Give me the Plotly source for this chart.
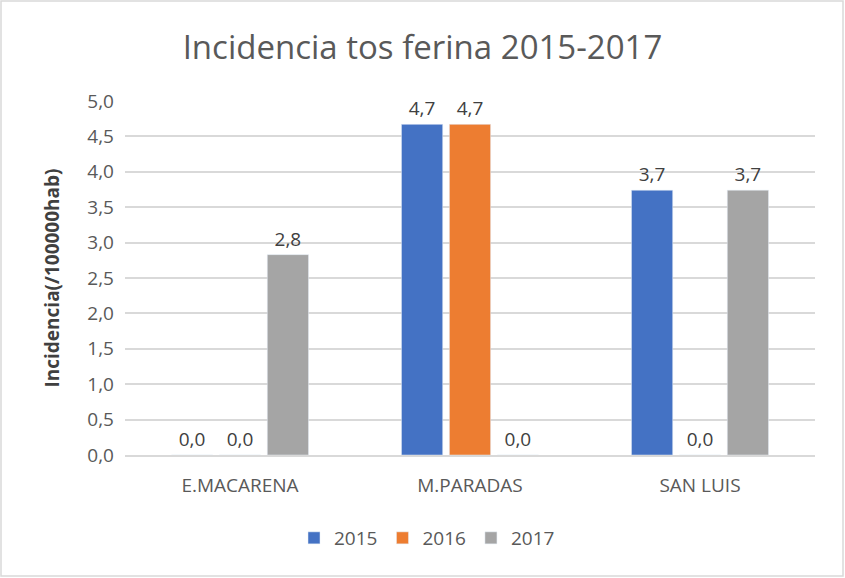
import plotly.graph_objects as go

categories = ["E.MACARENA", "M.PARADAS", "SAN LUIS"]
series_names = ["2015", "2016", "2017"]
values_2015 = [0.0, 4.67, 3.74]
values_2016 = [0.0, 4.67, 0.0]
values_2017 = [2.83, 0.0, 3.74]
colors = ["#4472C4", "#ED7D31", "#A5A5A5"]

def fmt(v):
    return f"{v:.1f}".replace(".", ",")

fig = go.Figure()
for name, vals, col in zip(series_names, [values_2015, values_2016, values_2017], colors):
    fig.add_trace(go.Bar(
        x=categories, y=vals, name=name, marker_color=col,
        text=[fmt(v) for v in vals], textposition="outside",
        textfont=dict(size=19, color="#404040"), cliponaxis=False,
    ))

W, H = 845, 578
L, R, T, B = 125, 30, 101, 123
pw, ph = W - L - R, H - T - B

fig.update_layout(
    width=W, height=H,
    paper_bgcolor="white", plot_bgcolor="white",
    font=dict(family="Open Sans", color="#595959"),
    title=dict(text="Incidencia tos ferina 2015-2017", x=0.5, xanchor="center", y=1 - 47 / H, yanchor="middle",
               font=dict(size=33, color="#595959")),
    barmode="group", bargap=0.375, bargroupgap=0.14,
    margin=dict(l=L, r=R, t=T, b=B),
    xaxis=dict(showline=True, linecolor="#D9D9D9", linewidth=1.5, ticks="",
               tickfont=dict(size=19, color="#595959"), ticklabelstandoff=12),
    yaxis=dict(range=[0, 5], dtick=0.5, tickformat=".1f",
               gridcolor="#D9D9D9", gridwidth=1.5, zeroline=False,
               tickfont=dict(size=19, color="#595959"), ticklabelstandoff=10,
               title=dict(text="<b>Incidencia(/100000hab)</b>", font=dict(size=19, color="#404040"), standoff=22)),
    separators=",.",
    legend=dict(orientation="h", x=(294 - L) / pw, xanchor="left", y=-(538 - (T + ph)) / ph, yanchor="middle",
                font=dict(size=19, color="#595959"), itemwidth=30, traceorder="normal"),
    shapes=[dict(type="rect", xref="paper", yref="paper",
                 x0=-(L - 1) / pw, x1=1 + (R - 2) / pw, y0=-(B - 2) / ph, y1=1 + (T - 1) / ph,
                 line=dict(color="#D9D9D9", width=1.5))],
)
fig.write_html("out.html", config={"displayModeBar": False},
               post_script="document.body.style.margin='0';")
